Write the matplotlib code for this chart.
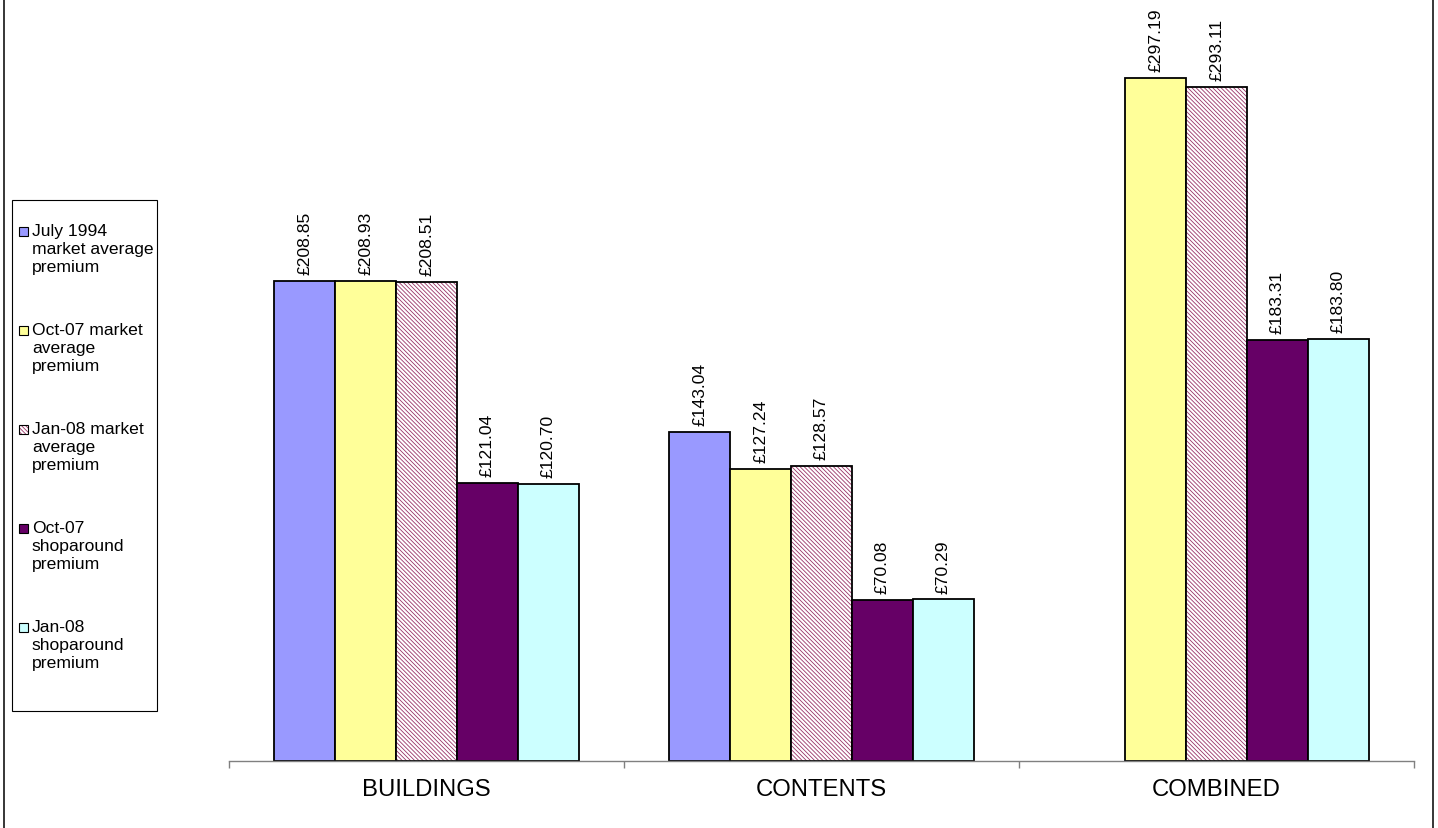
import numpy as np
import matplotlib
matplotlib.use("Agg")
import matplotlib.pyplot as plt
from matplotlib.patches import Rectangle

plt.rcParams['font.family'] = ['Liberation Sans', 'DejaVu Sans']
plt.rcParams['hatch.linewidth'] = 0.6

# data
categories = ["BUILDINGS", "CONTENTS", "COMBINED"]
series_names = [
    "July 1994\nmarket average\npremium",
    "Oct-07 market\naverage\npremium",
    "Jan-08 market\naverage\npremium",
    "Oct-07\nshoparound\npremium",
    "Jan-08\nshoparound\npremium",
]
jul94_market = [208.85, 143.04, np.nan]
oct07_market = [208.93, 127.24, 297.19]
jan08_market = [208.51, 128.57, 293.11]
oct07_shop = [121.04, 70.08, 183.31]
jan08_shop = [120.70, 70.29, 183.80]

series = [jul94_market, oct07_market, jan08_market, oct07_shop, jan08_shop]
colours = ["#9999FF", "#FFFF99", "white", "#660066", "#CCFFFF"]
hatches = [None, None, "\\" * 8, None, None]
hatch_col = "#993366"

W, H = 1438, 829
fig = plt.figure(figsize=(W / 100, H / 100), dpi=100)
ax = fig.add_axes([229 / W, (H - 762) / H, 1185 / W, 742 / H])

x = np.arange(len(categories)) + 0.5
width = 0.1544

for i, vals in enumerate(series):
    xs = x + (i - 2) * width
    if hatches[i]:
        # hatch drawn first so the outline stays black
        ax.bar(xs, vals, width, color=colours[i], edgecolor=hatch_col,
               hatch=hatches[i], linewidth=0)
        ax.bar(xs, vals, width, fill=False, edgecolor="black", linewidth=1.3)
    else:
        ax.bar(xs, vals, width, color=colours[i], edgecolor="black", linewidth=1.3)
    for xv, v in zip(xs, vals):
        if np.isnan(v):
            continue
        ax.annotate(f"£{v:.2f}", (xv, v), xytext=(0, 5), textcoords="offset points",
                    rotation=90, ha="center", va="bottom", fontsize=12.6)

ax.set_xlim(0, 3)
ax.set_ylim(0, 742 / 2.2983)
ax.set_yticks([])
for s in ["left", "top", "right"]:
    ax.spines[s].set_visible(False)
ax.spines["bottom"].set_color("#808080")
ax.spines["bottom"].set_linewidth(1.0)
ax.set_xticks(x, categories, fontsize=17.2)
ax.set_xticks([0, 1, 2, 3], minor=True)
ax.tick_params(axis="x", which="major", length=0, pad=12.5)
ax.tick_params(axis="x", which="minor", length=5, width=1, color="#808080",
               direction="out")

# outer frame
fig.add_artist(Rectangle((4 / W, -0.01), (1433 - 4) / W, 1.02,
                         transform=fig.transFigure, fill=False,
                         edgecolor="black", linewidth=1.1))

# legend
fig.add_artist(Rectangle((12 / W, 1 - 712 / H), 145 / W, 511 / H,
                         transform=fig.transFigure, fill=False,
                         edgecolor="black", linewidth=0.8))
step = 99
for i, name in enumerate(series_names):
    top = 228 + i * step
    pos = (19 / W, 1 - (top + 9) / H)
    if hatches[i]:
        fig.add_artist(Rectangle(pos, 9 / W, 9 / H, transform=fig.transFigure,
                                 facecolor="white", edgecolor=hatch_col,
                                 hatch=hatches[i], linewidth=0))
        fig.add_artist(Rectangle(pos, 9 / W, 9 / H, transform=fig.transFigure,
                                 fill=False, edgecolor="black", linewidth=0.8))
    else:
        fig.add_artist(Rectangle(pos, 9 / W, 9 / H, transform=fig.transFigure,
                                 facecolor=colours[i], edgecolor="black",
                                 linewidth=0.8))
    fig.text(32 / W, 1 - (top - 4) / H, name, ha="left", va="top",
             fontsize=12.6, linespacing=1.27)

fig.savefig("out.png", dpi=100)
